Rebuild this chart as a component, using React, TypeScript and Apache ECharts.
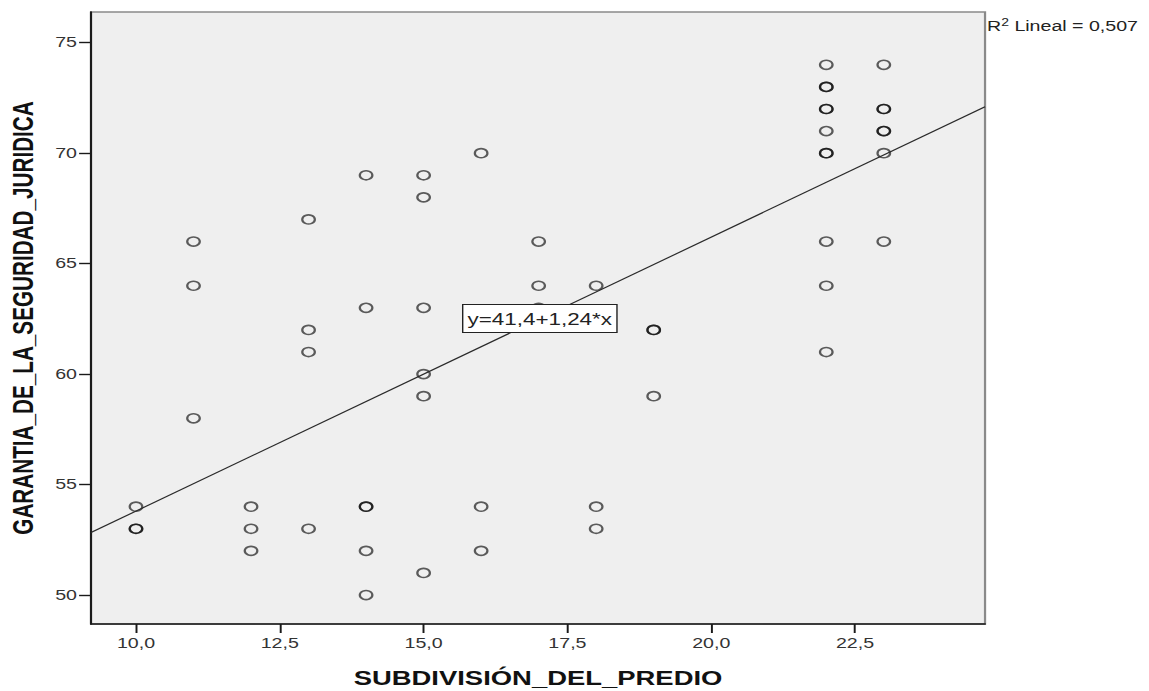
import React, { useEffect, useRef } from "react";
import * as echarts from "echarts";

// Data
const subdivision: number[] = [
  10, 10, 10,
  11, 11, 11,
  12, 12, 12,
  13, 13, 13, 13,
  14, 14, 14, 14, 14, 14,
  15, 15, 15, 15, 15, 15,
  16, 16, 16,
  17, 17, 17,
  18, 18, 18,
  19, 19, 19,
  22, 22, 22, 22, 22, 22, 22, 22, 22, 22, 22,
  23, 23, 23, 23, 23, 23, 23,
];
const garantia: number[] = [
  54, 53, 53,
  66, 64, 58,
  54, 53, 52,
  67, 62, 61, 53,
  69, 63, 54, 54, 52, 50,
  69, 68, 63, 60, 59, 51,
  70, 54, 52,
  66, 64, 63,
  64, 54, 53,
  62, 62, 59,
  74, 73, 73, 72, 72, 71, 70, 70, 66, 64, 61,
  74, 72, 72, 71, 71, 70, 66,
];
const xTicks: number[] = [10, 12.5, 15, 17.5, 20, 22.5];
const yTicks: number[] = [50, 55, 60, 65, 70, 75];
const xRange: number[] = [9.218, 24.76];
const yRange: number[] = [48.69, 76.39];
const regIntercept = 41.4;
const regSlope = 1.24;
const rSquared = "0,507";
const equationText = "y=41,4+1,24*x";
const xName = "SUBDIVISIÓN_DEL_PREDIO";
const yName = "GARANTIA_DE_LA_SEGURIDAD_JURIDICA";

const STRETCH = 1.4;
const FONT = "'Liberation Sans', Arial, sans-serif";

export default function App() {
  const ref = useRef<HTMLDivElement>(null);
  useEffect(() => {
    if (!ref.current) return;
    const chart = echarts.init(ref.current, undefined, { renderer: "svg" });
    const points = subdivision.map((x, i) => [x, garantia[i]]);
    const fit = xRange.map((x) => [x, regIntercept + regSlope * x]);
    chart.setOption({
      animation: false,
      textStyle: { fontFamily: FONT },
      grid: {
        left: 65,
        right: 117.4,
        top: 12,
        bottom: 67,
        containLabel: false,
        outerBoundsMode: "none",
        show: true,
        backgroundColor: "#efefef",
        borderColor: "#8a8a8a",
        borderWidth: 1.6,
      },
      xAxis: {
        type: "value",
        min: xRange[0],
        max: xRange[1],
        name: xName,
        nameLocation: "middle",
        nameGap: 44,
        nameTextStyle: { fontSize: 19.6, fontWeight: "bold", color: "#111", fontFamily: FONT },
        axisLine: { show: true, onZero: false, lineStyle: { color: "#1a1a1a", width: 1.5 } },
        axisTick: { show: true, length: 9, customValues: xTicks, lineStyle: { color: "#1a1a1a", width: 1.4 } },
        axisLabel: {
          customValues: xTicks,
          margin: 12,
          fontSize: 14,
          color: "#333",
          fontFamily: FONT,
          formatter: (v: number) => v.toFixed(1).replace(".", ","),
        },
        splitLine: { show: false },
      },
      yAxis: {
        type: "value",
        min: yRange[0],
        max: yRange[1],
        name: yName,
        nameLocation: "middle",
        nameGap: 38.5,
        nameTextStyle: { fontSize: 20.7, fontWeight: "bold", color: "#111", fontFamily: FONT },
        axisLine: { show: true, onZero: false, lineStyle: { color: "#1a1a1a", width: 1.5 } },
        axisTick: { show: true, length: 8.5, customValues: yTicks, lineStyle: { color: "#1a1a1a", width: 1.4 } },
        axisLabel: {
          customValues: yTicks,
          margin: 10,
          fontSize: 14,
          color: "#333",
          fontFamily: FONT,
          formatter: (v: number) => String(v),
        },
        splitLine: { show: false },
      },
      series: [
        {
          type: "scatter",
          data: points,
          symbol: "circle",
          symbolSize: 9,
          itemStyle: {
            color: "rgba(0,0,0,0)",
            borderColor: "rgba(0,0,0,0.78)",
            borderWidth: 1.6,
          },
          z: 2,
        },
        {
          type: "line",
          data: fit,
          showSymbol: false,
          symbol: "none",
          lineStyle: { color: "#2a2a2a", width: 1.1 },
          z: 3,
        },
      ],
      graphic: [
        {
          type: "text",
          left: 330,
          top: 304,
          z: 10,
          style: {
            text: equationText,
            font: `16px ${FONT}`,
            fill: "#222",
            backgroundColor: "#ffffff",
            borderColor: "#222",
            borderWidth: 1,
            padding: [6, 3, 5, 3],
          },
        },
        {
          type: "text",
          left: 705,
          top: 18,
          z: 10,
          style: {
            text: "{r|R}{sup|2}{r| Lineal = " + rSquared + "}",
            fill: "#222",
            rich: {
              r: { fontSize: 14, fontFamily: FONT, fill: "#222", lineHeight: 16 },
              sup: { fontSize: 10, fontFamily: FONT, fill: "#222", verticalAlign: "top", lineHeight: 16 },
            },
          },
        },
      ],
    });
    return () => chart.dispose();
  }, []);
  return (
    <div
      ref={ref}
      style={{
        position: "fixed",
        left: 0,
        top: 0,
        width: 821,
        height: 691,
        transform: `scaleX(${STRETCH})`,
        transformOrigin: "0 0",
        background: "#fff",
      }}
    />
  );
}
